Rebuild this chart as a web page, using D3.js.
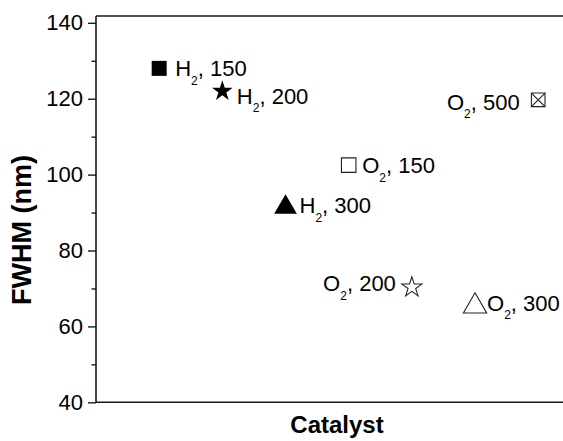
<!DOCTYPE html>
<html>
<head>
<meta charset="utf-8">
<script src="https://cdn.jsdelivr.net/npm/d3@7"></script>
<style>
  html, body { margin: 0; padding: 0; background: #fff; }
  svg { display: block; }
  text { font-family: "Liberation Sans", Arial, sans-serif; fill: #000; }
</style>
</head>
<body>
<svg id="chart" width="563" height="441"></svg>
<script>
// ---- data ----
const gases       = ["H", "H", "H", "O", "O", "O", "O"];
const temps       = ["150", "200", "300", "150", "200", "300", "500"];
const catalystPos = [1, 2, 3, 4, 5, 6, 7];
const fwhm        = [128, 122, 91.4, 102.5, 70.3, 65.3, 119.7];
const markers     = ["squareFilled", "starFilled", "triangleFilled", "squareOpen", "starOpen", "triangleOpen", "squareCrossed"];
const yTicks      = [40, 60, 80, 100, 120, 140];
const yMinorTicks = [50, 70, 90, 110, 130];

// ---- layout / style (not data) ----
const labelLayout = [
  {side: "right", dx: 16,  dy: 8},
  {side: "right", dx: 14.5, dy: 12.5},
  {side: "right", dx: 14,  dy: 6},
  {side: "right", dx: 13.5, dy: 8},
  {side: "left",  dx: -16, dy: 4},
  {side: "right", dx: 12,  dy: 4.5},
  {side: "left",  dx: -18.5, dy: 10}
];
const labelFont = 22, tickFont = 22;

const svg = d3.select("#chart");
const plotLeft = 96, plotRight = 578, plotTop = 16, plotBottom = 402.3;

const x = d3.scaleLinear().domain([0, 7.63]).range([plotLeft, plotRight]);
const y = d3.scaleLinear().domain([40, 141.8]).range([plotBottom, plotTop]);

const axisColor = "#1a1a1a";

// frame lines (top & bottom)
svg.append("line").attr("x1", plotLeft).attr("x2", plotRight + 20).attr("y1", plotTop).attr("y2", plotTop)
  .attr("stroke", axisColor).attr("stroke-width", 1.6);
svg.append("line").attr("x1", plotLeft).attr("x2", plotRight + 20).attr("y1", plotBottom).attr("y2", plotBottom)
  .attr("stroke", axisColor).attr("stroke-width", 1.6);

// y axis (major)
const yAxis = d3.axisLeft(y).tickValues(yTicks).tickSize(8).tickPadding(5).tickFormat(d3.format("d"));
const gy = svg.append("g").attr("transform", `translate(${plotLeft},0)`).call(yAxis);
gy.select(".domain").attr("stroke", axisColor).attr("stroke-width", 1.6)
  .attr("d", `M0,${plotTop}V${plotBottom}`);
gy.selectAll(".tick line").attr("stroke", axisColor).attr("stroke-width", 1.4);
gy.selectAll(".tick text").attr("font-size", tickFont).attr("font-family", "Liberation Sans, Arial, sans-serif").attr("fill", "#000");

// y axis minor ticks
const yMinor = d3.axisLeft(y).tickValues(yMinorTicks).tickSize(4.5).tickFormat("");
const gyMinor = svg.append("g").attr("transform", `translate(${plotLeft},0)`).call(yMinor);
gyMinor.select(".domain").remove();
gyMinor.selectAll(".tick line").attr("stroke", axisColor).attr("stroke-width", 1.4);

// axis titles
svg.append("text")
  .attr("transform", `translate(30.5, ${(153 + 307) / 2}) rotate(-90)`)
  .attr("text-anchor", "middle")
  .attr("font-size", 27).attr("font-weight", "bold")
  .text("FWHM (nm)");

svg.append("text")
  .attr("x", 337).attr("y", 433)
  .attr("text-anchor", "middle")
  .attr("font-size", 24).attr("font-weight", "bold")
  .text("Catalyst");

// ---- markers ----
const ink = "#000";
const openStroke = "#222";

function drawMarker(g, kind) {
  if (kind === "squareFilled") {
    g.append("path").attr("d", d3.symbol(d3.symbolSquare, 225)()).attr("fill", ink);
  } else if (kind === "starFilled") {
    g.append("path").attr("d", d3.symbol(d3.symbolStar, 132)()).attr("fill", ink);
  } else if (kind === "triangleFilled") {
    g.append("path").attr("d", d3.symbol(d3.symbolTriangle, 223)()).attr("fill", ink);
  } else if (kind === "squareOpen") {
    g.append("path").attr("d", d3.symbol(d3.symbolSquare, 210)()).attr("fill", "none")
      .attr("stroke", openStroke).attr("stroke-width", 1.1);
  } else if (kind === "starOpen") {
    g.append("path").attr("d", d3.symbol(d3.symbolStar, 124)()).attr("fill", "none")
      .attr("stroke", openStroke).attr("stroke-width", 1.1);
  } else if (kind === "triangleOpen") {
    g.append("path").attr("d", d3.symbol(d3.symbolTriangle, 235)()).attr("fill", "none")
      .attr("stroke", openStroke).attr("stroke-width", 1.1);
  } else if (kind === "squareCrossed") {
    const h = 6.8;
    g.append("path").attr("d", d3.symbol(d3.symbolSquare, (2 * h) * (2 * h))()).attr("fill", "none")
      .attr("stroke", openStroke).attr("stroke-width", 1.1);
    g.append("path").attr("d", `M${-h},${-h}L${h},${h}M${h},${-h}L${-h},${h}`)
      .attr("fill", "none").attr("stroke", openStroke).attr("stroke-width", 1.1);
  }
}

const pts = svg.append("g").selectAll("g.pt")
  .data(fwhm.map((v, i) => ({v, i})))
  .join("g").attr("class", "pt")
  .attr("transform", d => `translate(${x(catalystPos[d.i])},${y(d.v)})`);

pts.each(function(d) { drawMarker(d3.select(this), markers[d.i]); });

// ---- labels ----
pts.each(function(d) {
  const L = labelLayout[d.i];
  const t = d3.select(this).append("text")
    .attr("x", L.dx).attr("y", L.dy)
    .attr("font-size", labelFont)
    .attr("text-anchor", L.side === "left" ? "end" : "start");
  t.append("tspan").text(gases[d.i]);
  t.append("tspan").attr("font-size", 12).attr("dy", 8.5).text("2");
  t.append("tspan").attr("dy", -8.5).text(", " + temps[d.i]);
});
</script>
</body>
</html>
